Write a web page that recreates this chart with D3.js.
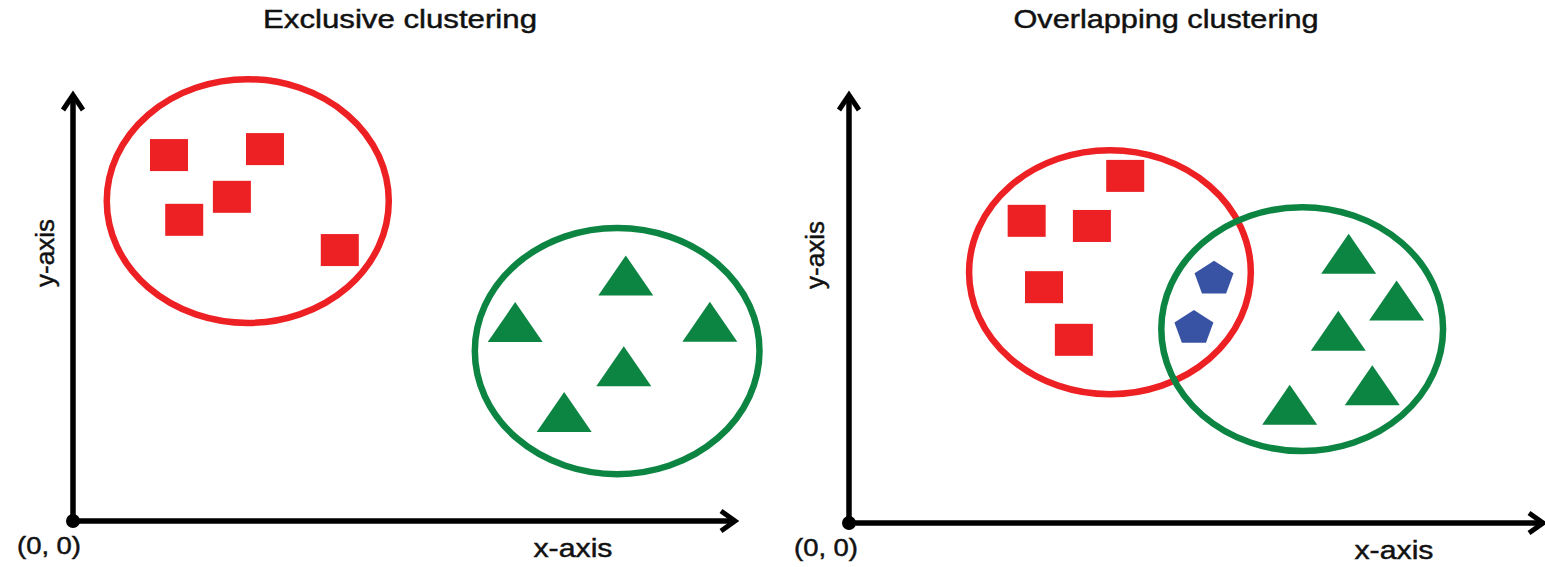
<!DOCTYPE html>
<html>
<head>
<meta charset="utf-8">
<title>Exclusive vs overlapping clustering</title>
<style>
  body { margin: 0; background: #fff; }
  svg text { font-family: "Liberation Sans", Arial, sans-serif; fill: #111; stroke: #111; stroke-width: 0.45; }
</style>
</head>
<body>
<svg id="chart" width="1545" height="567"></svg>
<script src="https://cdn.jsdelivr.net/npm/d3@7"></script>
<script>
// all positions in axis units: 0..100 on both axes, origin bottom-left
const panelTitles = ["Exclusive clustering", "Overlapping clustering"];
const axisNames = ["x-axis", "y-axis", "(0, 0)"];

const exclusiveSquares = [[14.5, 85.9], [29.0, 87.3], [24.0, 76.1], [16.8, 70.7], [40.3, 63.6]];
const exclusiveTriangles = [[83.5, 57.6], [66.8, 46.7], [96.2, 46.8], [83.2, 36.3], [74.2, 25.6]];
// cx, cy, rx, ry
const exclusiveClusters = [[26.4, 75.1, 21.3, 28.6], [82.2, 39.9, 21.5, 28.9]];

const overlapSquares = [[39.8, 81.1], [25.6, 70.6], [35.0, 69.4], [28.1, 55.1], [32.4, 42.8]];
const overlapPentagons = [[52.6, 57.5], [49.7, 46.0]];
const overlapTriangles = [[72.0, 62.9], [78.9, 52.0], [70.5, 44.9], [75.4, 32.2], [63.5, 27.6]];
const overlapClusters = [[37.6, 58.6, 20.3, 28.5], [65.3, 45.3, 20.3, 28.5]];

const red = "#ed2024", green = "#0c8442", blue = "#3953a4";
const clusterColors = [red, green];

const svg = d3.select("#chart");

// pixel frame of each panel
const frames = [
  { x0: 73, y0: 521, x1: 735, y1: 95, titleX: 400, titleLen: 274, xLabelX: 573, yLabelX: 54, originX: 49 },
  { x0: 849, y0: 523, x1: 1543, y1: 95, titleX: 1166, titleLen: 305, xLabelX: 1394, yLabelX: 824, originX: 826 }
];

const panels = [
  { clusters: exclusiveClusters, squares: exclusiveSquares, triangles: exclusiveTriangles, pentagons: [] },
  { clusters: overlapClusters, squares: overlapSquares, triangles: overlapTriangles, pentagons: overlapPentagons }
];

function pentagon(cx, cy) {
  var r = 20.5, pts = [];
  for (var i = 0; i < 5; i++) {
    var a = -Math.PI / 2 + i * 2 * Math.PI / 5;
    pts.push([cx + r * Math.cos(a), cy + 2 + r * Math.sin(a) * 0.88]);
  }
  return "M" + pts.join("L") + "Z";
}

panels.forEach(function(p, i) {
  var f = frames[i];
  var x = d3.scaleLinear().domain([0, 100]).range([f.x0, f.x1]);
  var y = d3.scaleLinear().domain([0, 100]).range([f.y0, f.y1]);
  var g = svg.append("g");

  // title
  g.append("text")
    .attr("x", f.titleX).attr("y", 28)
    .attr("text-anchor", "middle")
    .attr("font-size", 25)
    .attr("textLength", f.titleLen)
    .attr("lengthAdjust", "spacingAndGlyphs")
    .text(panelTitles[i]);

  // axes
  g.append("path")
    .attr("d", "M" + x(0) + "," + y(0) + "H" + (x(100) - 2) + "M" + x(0) + "," + y(0) + "V" + (y(100) + 2))
    .attr("stroke", "#000").attr("stroke-width", 5.5).attr("fill", "none");
  g.append("path")
    .attr("d", "M" + (x(100) - 14) + "," + (y(0) - 10) + "L" + x(100) + "," + y(0) + "L" + (x(100) - 14) + "," + (y(0) + 10)
      + "M" + (x(0) - 10) + "," + (y(100) + 15) + "L" + x(0) + "," + y(100) + "L" + (x(0) + 10) + "," + (y(100) + 15))
    .attr("stroke", "#000").attr("stroke-width", 5).attr("fill", "none");
  g.append("circle").attr("cx", x(0)).attr("cy", y(0)).attr("r", 7).attr("fill", "#000");

  // axis labels
  g.append("text")
    .attr("x", f.xLabelX).attr("y", f.y0 + 36)
    .attr("text-anchor", "middle").attr("font-size", 25)
    .attr("textLength", 79).attr("lengthAdjust", "spacingAndGlyphs")
    .text(axisNames[0]);
  g.append("text")
    .attr("transform", "translate(" + f.yLabelX + "," + (f.y0 - 268) + ") rotate(-90)")
    .attr("text-anchor", "middle").attr("font-size", 25)
    .attr("textLength", 68).attr("lengthAdjust", "spacingAndGlyphs")
    .text(axisNames[1]);
  g.append("text")
    .attr("x", f.originX).attr("y", f.y0 + 33)
    .attr("text-anchor", "middle").attr("font-size", 23)
    .attr("textLength", 64).attr("lengthAdjust", "spacingAndGlyphs")
    .text(axisNames[2]);

  // cluster outlines
  g.selectAll(".cluster").data(p.clusters).enter().append("ellipse")
    .attr("cx", function(d) { return x(d[0]); })
    .attr("cy", function(d) { return y(d[1]); })
    .attr("rx", function(d) { return x(d[2]) - x(0); })
    .attr("ry", function(d) { return y(0) - y(d[3]); })
    .attr("fill", "none")
    .attr("stroke", function(d, k) { return clusterColors[k]; })
    .attr("stroke-width", 6.5);

  // points
  g.selectAll(".sq").data(p.squares).enter().append("rect")
    .attr("x", function(d) { return x(d[0]) - 19; })
    .attr("y", function(d) { return y(d[1]) - 16; })
    .attr("width", 38).attr("height", 32)
    .attr("fill", red);

  g.selectAll(".tri").data(p.triangles).enter().append("path")
    .attr("d", function(d) {
      var cx = x(d[0]), cy = y(d[1]);
      return "M" + cx + "," + (cy - 20) + "L" + (cx + 27.5) + "," + (cy + 20) + "L" + (cx - 27.5) + "," + (cy + 20) + "Z";
    })
    .attr("fill", green);

  g.selectAll(".pent").data(p.pentagons).enter().append("path")
    .attr("d", function(d) { return pentagon(x(d[0]), y(d[1])); })
    .attr("fill", blue);
});
</script>
</body>
</html>
